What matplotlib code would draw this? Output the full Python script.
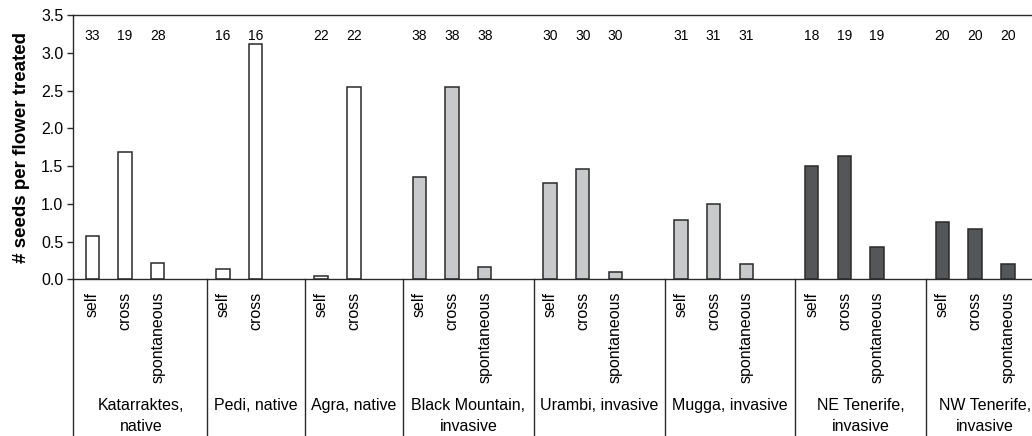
import numpy as np
import matplotlib.pyplot as plt
from matplotlib.transforms import blended_transform_factory

plt.rcParams['font.family'] = ['Liberation Sans', 'DejaVu Sans']

# populations and treatments
groups = ['Katarraktes,\nnative', 'Pedi, native', 'Agra, native', 'Black Mountain,\ninvasive',
          'Urambi, invasive', 'Mugga, invasive', 'NE Tenerife,\ninvasive', 'NW Tenerife,\ninvasive']
treatments = [['self', 'cross', 'spontaneous'], ['self', 'cross'], ['self', 'cross'],
              ['self', 'cross', 'spontaneous'], ['self', 'cross', 'spontaneous'],
              ['self', 'cross', 'spontaneous'], ['self', 'cross', 'spontaneous'],
              ['self', 'cross', 'spontaneous']]
seeds = [[0.57, 1.68, 0.21], [0.13, 3.12], [0.05, 2.55],
         [1.35, 2.55, 0.16], [1.27, 1.46, 0.10], [0.78, 1.00, 0.20],
         [1.50, 1.63, 0.43], [0.76, 0.66, 0.20]]
n_flowers = [[33, 19, 28], [16, 16], [22, 22],
             [38, 38, 38], [30, 30, 30], [31, 31, 31],
             [18, 19, 19], [20, 20, 20]]
colours = ['white', 'white', 'white', '#c8c9cb', '#c8c9cb', '#c8c9cb', '#555658', '#555658']

fig = plt.figure(figsize=(10.32, 4.36), dpi=100)
ax = fig.add_axes([73 / 1032, 156.7 / 436, 961 / 1032, 264.3 / 436])
trans = blended_transform_factory(ax.transData, ax.transAxes)

x_pos, x_lab = [], []
seps = []
pos = 1
for g, name in enumerate(groups):
    start = pos
    for t, lab in enumerate(treatments[g]):
        ax.bar(pos, seeds[g][t], width=0.41, color=colours[g], edgecolor='#2a2a2a', linewidth=1.1)
        ax.text(pos, 3.22, str(n_flowers[g][t]), ha='center', va='center', fontsize=10)
        x_pos.append(pos)
        x_lab.append(lab)
        pos += 1
    # one empty slot after each group
    end = pos + 0.5
    seps.append(end)
    xc = (start - 0.5 + end) / 2
    if g == len(groups) - 1:
        xc -= 0.2  # keep the last label inside the figure
    ax.text(xc, -0.45, name, transform=trans,
            ha='center', va='top', fontsize=11.5, linespacing=1.5, multialignment='center')
    pos += 1

x0 = 0.41
for s in [x0] + seps[:-1]:
    ax.plot([s, s], [0, -0.6], transform=trans, color='#2a2a2a', linewidth=1, clip_on=False)

ax.set_xlim(x0, x0 + 961 / 32.7)
ax.set_ylim(0, 3.5)
ax.set_yticks(np.arange(0, 3.51, 0.5))
ax.set_yticklabels([f'{v:.1f}' for v in np.arange(0, 3.51, 0.5)], fontsize=11.5)
ax.set_xticks(x_pos)
ax.set_xticklabels(x_lab, rotation=90, fontsize=11.5)
ax.tick_params(axis='x', length=0, pad=9)
ax.tick_params(axis='y', direction='out', length=4, width=1, color='#2a2a2a', pad=3)
ax.spines['right'].set_visible(False)
for sp in ['left', 'top', 'bottom']:
    ax.spines[sp].set_color('#2a2a2a')
    ax.spines[sp].set_linewidth(1)
ax.set_ylabel('# seeds per flower treated', fontsize=13.5, fontweight='bold', labelpad=8)

fig.savefig('out.png', dpi=100)
